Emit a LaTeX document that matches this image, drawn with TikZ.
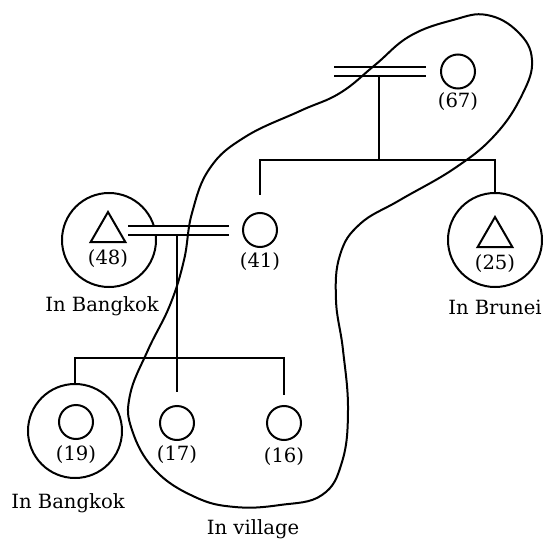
\documentclass[tikz,border=0pt]{standalone}
\usepackage{fontspec}
\setmainfont{DejaVu Serif}
\usetikzlibrary{shapes.geometric}

\begin{document}
\begin{tikzpicture}[x=0.5pt,y=-0.5pt,line width=1pt,
    person/.style={circle,draw,inner sep=0pt,minimum size=17pt},
    male/.style={regular polygon,regular polygon sides=3,draw,inner sep=0pt,minimum size=20pt},
    away/.style={circle,draw,inner sep=0pt,minimum size=47pt},
    age/.style={font=\fontsize{9.8}{12}\selectfont,inner sep=0pt},
    marriage/.style={double,double distance=3.5pt}]
  \useasboundingbox (0,0) rectangle (546,540);
  % grandmother
  \node[person] (c67) at (458,71.5) {};
  \node[age] (l67) at (458,102) {(67)};
  % mother and father
  \node[person] (c41) at (260,230) {};
  \node[age] (l41) at (260,262) {(41)};
  \node[away] (r48) at (109,240) {};
  \node[male] (t48) at (108,232) {};
  \node[age] (l48) at (108,259) {(48)};
  \node[age] (b48) at (102,306) {In Bangkok};
  % uncle
  \node[away] (r25) at (495,240) {};
  \node[male] (t25) at (495,237) {};
  \node[age] (l25) at (495,264) {(25)};
  \node[age] (b25) at (495,307) {In Brunei};
  % children
  \node[away] (r19) at (75,431) {};
  \node[person] (c19) at (76,422) {};
  \node[age] (l19) at (76,455) {(19)};
  \node[age] (b19) at (68,503) {In Bangkok};
  \node[person] (c17) at (177,423) {};
  \node[age] (l17) at (177,455) {(17)};
  \node[person] (c16) at (284,423) {};
  \node[age] (l16) at (284,457) {(16)};
  \node[age] (vil) at (253,529) {In village};
  % descent lines
  \coordinate (h67) at (334,71.5);
  \coordinate (m1) at (379,71.5);
  \coordinate (j1) at (379,160);
  \draw (m1) -- (j1);
  \draw[shorten >=8.5pt] (j1) -| (c41.north);
  \draw (j1) -| (r25.north);
  \coordinate (w48) at (128,230);
  \coordinate (m2) at (177,230);
  \coordinate (j2) at (177,358);
  \draw[shorten >=6.5pt] (m2) -- (c17.north);
  \draw (r19.north) |- (j2);
  \draw[shorten >=5pt] (j2) -| (c16.north);
  % marriages
  \draw[marriage] (h67) -- ([xshift=-7pt]c67.west);
  \draw[marriage] (w48) -- ([xshift=-6.5pt]c41.west);
  % household boundary
  \draw plot[smooth cycle,tension=0.7] coordinates {(375,65) (410,36) (453,20) (487,15)
    (518,32) (532,60) (522,95) (495,135) (455,168) (400,200) (360,224) (340,255) (336,300)
    (343,350) (348,410) (342,462) (322,495) (280,505) (235,507) (195,497) (155,470) (132,430)
    (130,395) (148,350) (170,305) (184,260) (192,213) (210,168) (245,137) (300,111) (340,93)};
\end{tikzpicture}
\end{document}
